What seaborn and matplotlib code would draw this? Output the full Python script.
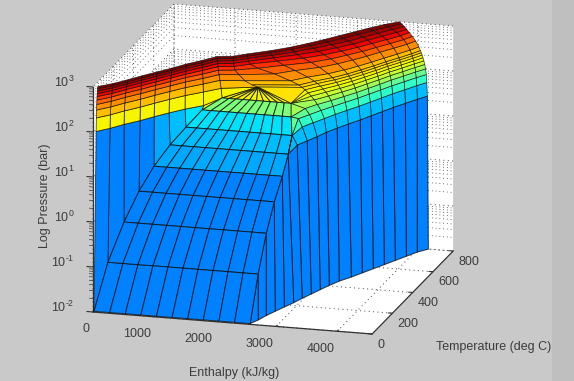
import numpy as np
import matplotlib
matplotlib.use("Agg")
import matplotlib.pyplot as plt
import seaborn as sns
from matplotlib.patches import Rectangle
from mpl_toolkits.mplot3d import proj3d

# ---------- values ----------
# two-phase region: one row per temperature, from saturated liquid to saturated vapour
dome_T  = [7, 45, 90, 135, 180, 225, 270, 315, 360, 374]
dome_hf = [5, 170, 359, 530, 701, 889, 1075, 1264, 1516, 2084]
dome_hg = [2562, 2628, 2687, 2743, 2800, 2823, 2813, 2723, 2648, 2084]
dome_logp = [-2, -0.98, -0.17, 0.43, 0.90, 1.29, 1.60, 1.90, 2.09, 2.36]
quality = [0, .1, .2, .3, .4, .5, .6, .7, .8, .9, 1]
dome_levels = [.25, .25, .25, .25, .29, .31, .345, .50, .65]

# compressed liquid wall: enthalpy per temperature column, at each pressure row
liq_T = [7, 45, 90, 135, 180, 225, 270, 315, 360, 374]
liq_P = [100, 200, 300, 400, 500, 600, 700, 800, 900, 1000]
liq_H = [
    [40, 43, 46, 49, 52, 55, 58, 61, 64, 66],
    [204, 210, 216, 222, 228, 234, 240, 245, 250, 253],
    [359, 365, 372, 378, 385, 392, 400, 408, 416, 424],
    [546, 550, 554, 558, 562, 566, 570, 573, 576, 579],
    [702, 708, 714, 720, 726, 732, 738, 742, 746, 750],
    [872, 878, 884, 890, 896, 902, 908, 913, 917, 921],
    [1059, 1061, 1063, 1065, 1067, 1069, 1071, 1072, 1074, 1075],
    [1290, 1285, 1280, 1276, 1272, 1268, 1266, 1265, 1264, 1264],
    [1516, 1500, 1480, 1465, 1455, 1448, 1443, 1439, 1436, 1434],
    [2084, 2084, 1870, 1770, 1706, 1690, 1682, 1678, 1676, 1674],
]
liq_wall_levels = [.25, .25, .25, .25, .29, .31, .345, .65, .65]
liq_band_levels = [.65, .71, .76, .805, .856, .905, .94, .97, 1.0]

# superheated vapour wall from 0.01 bar up to the first colour band
wall_T = [7, 45, 90, 135, 180, 225, 270, 315, 360, 405, 450, 495, 540, 585, 630, 675, 720, 765, 800]
wall_H_low = [2562, 2630, 2687, 2759, 2834, 2913, 2977, 3051, 3123, 3197, 3285, 3408,
              3513, 3618, 3725, 3830, 3936, 4041, 4164]
wall_H_high = [2562, 2628, 2687, 2743, 2800, 2823, 2895, 2985, 3074, 3148, 3252, 3359,
               3480, 3585, 3692, 3797, 3920, 4041, 4148]
wall_logp_high = [-2, -0.98, -0.17, 0.43, 0.90, 1.29, 1.398, 1.398, 1.398, 1.398, 1.398, 1.398,
                  1.398, 1.398, 1.398, 1.398, 1.398, 1.398, 1.398]

# vapour surface just above the dome
near_T = [225, 270, 315, 360]
near_H = [
    [2823, 2823, 2823, 2823, 2823],
    [2895, 2813, 2813, 2813, 2813],
    [2985, 2903, 2840, 2723, 2723],
    [3074, 3008, 2950, 2880, 2648],
]
near_logp = [
    [1.29, 1.29, 1.29, 1.29, 1.29],
    [1.398, 1.60, 1.60, 1.60, 1.60],
    [1.398, 1.699, 1.875, 1.90, 1.90],
    [1.398, 1.699, 1.875, 2.0, 2.09],
]

# vapour / supercritical surface
vap_P = [25, 50, 75, 100, 125, 150, 175, 200, 225, 250, 300, 400, 500, 600, 700, 800, 900, 1000]
vap_T = [405, 450, 495, 540, 585, 630, 675, 720, 765, 800]
edge_T = [360, 360, 360, 360, 360, 360, 360, 360, 374, 374, 374, 374, 374, 374, 374, 374, 374, 374]
edge_H = [3074, 3008, 2950, 2880, 2648, 2648, 2648, 2648, 2084, 1980, 1870, 1770, 1706, 1690, 1682, 1678, 1676, 1674]
edge_logp = [1.398, 1.699, 1.875, 2.0, 2.09, 2.09, 2.09, 2.09, 2.36, 2.398, 2.477, 2.602, 2.699, 2.778, 2.845, 2.903, 2.954, 3.0]
vap_H = [
    [3148, 3115, 3060, 3000, 2950, 2900, 2850, 2800, 2750, 2700, 2560, 2300, 2030, 1900, 1870, 1860, 1855, 1852],
    [3252, 3220, 3185, 3150, 3110, 3065, 3020, 2975, 2928, 2880, 2770, 2560, 2380, 2270, 2210, 2180, 2160, 2154],
    [3359, 3335, 3310, 3285, 3255, 3225, 3195, 3165, 3133, 3100, 3030, 2890, 2750, 2620, 2530, 2470, 2430, 2408],
    [3480, 3460, 3440, 3420, 3395, 3370, 3345, 3320, 3295, 3270, 3215, 3110, 3000, 2890, 2800, 2720, 2660, 2611],
    [3585, 3570, 3550, 3535, 3515, 3495, 3475, 3455, 3435, 3415, 3370, 3280, 3190, 3100, 3020, 2940, 2865, 2798],
    [3692, 3678, 3664, 3650, 3634, 3618, 3602, 3585, 3568, 3550, 3515, 3440, 3365, 3290, 3215, 3140, 3055, 2970],
    [3797, 3785, 3773, 3760, 3747, 3733, 3719, 3705, 3690, 3675, 3645, 3580, 3515, 3450, 3380, 3305, 3225, 3141],
    [3920, 3910, 3899, 3888, 3876, 3864, 3852, 3840, 3827, 3814, 3787, 3730, 3670, 3610, 3545, 3475, 3395, 3313],
    [4041, 4032, 4022, 4012, 4002, 3991, 3980, 3969, 3958, 3946, 3922, 3870, 3817, 3762, 3705, 3640, 3575, 3500],
    [4148, 4139, 4131, 4118, 4105, 4090, 4075, 4062, 4048, 4033, 4008, 3956, 3902, 3852, 3811, 3770, 3730, 3689],
]
vap_levels = [.31, .41, .47, .545, .59, .63, .65, .67, .69, .71, .76, .805, .856, .905, .94, .97, 1.0]

h_ticks = [0, 1000, 2000, 3000, 4000]
t_ticks = [0, 200, 400, 600, 800]
p_exps = [-2, -1, 0, 1, 2, 3]
minor_mult = [2, 3, 4, 5, 6, 7, 8, 9]
xlabel_txt = "Enthalpy (kJ/kg)"
ylabel_txt = "Temperature (deg C)"
zlabel_txt = "Log Pressure (bar)"

# ---------- style ----------
sns.set_theme(style="white")
plt.rcParams["font.family"] = ["Liberation Sans", "DejaVu Sans"]
plt.rcParams["mathtext.fontset"] = "custom"
plt.rcParams["mathtext.rm"] = "Liberation Sans"
plt.rcParams["mathtext.default"] = "regular"
jet = matplotlib.colormaps["jet"]
BG = "#c9c9c9"
INK = "#3c3c3c"
W, H = 574, 381
H_MAX, T_MAX = 4570, 800

fig = plt.figure(figsize=(W / 100, H / 100), dpi=100, facecolor=BG)
fig.patches.append(Rectangle((552 / W, 0), 22 / W, 1, transform=fig.transFigure,
                             facecolor="#bfbfbf", edgecolor="none", zorder=-5))
S = 574
ax = fig.add_axes([0, (H - S) / 2 / H, 1, S / H], projection="3d", computed_zorder=False)
ax.patch.set_alpha(0)
ax.set_proj_type("ortho")
ax.view_init(elev=16.5, azim=-74.5)
ax.set_xlim(0, H_MAX)
ax.set_ylim(0, T_MAX)
ax.set_zlim(-2, 3)
aspect = (289.6, 303.0, 234.6)
ax.set_box_aspect(aspect, zoom=1)


def to_px(x, y, z):
    ax.apply_aspect()
    xp, yp, _ = proj3d.proj_transform(x, y, z, ax.get_proj())
    return ax.transData.transform((xp, yp))


# scale and place the box so that its corner and height match the reference
a0, d0 = to_px(0, 0, -2), to_px(0, 0, 3)
k = 225.0 / abs(d0[1] - a0[1])
ax.set_box_aspect(aspect, zoom=k)
a1 = to_px(0, 0, -2)
dx, dy = 93 - a1[0], (H - 312) - a1[1]
ax.set_position([dx / W, ((H - S) / 2 + dy) / H, 1, S / H])

# ---------- axes ----------
DOTS = (0, (1, 3.5))
for axis in (ax.xaxis, ax.yaxis, ax.zaxis):
    axis.set_pane_color((1, 1, 1, 1))
    axis.pane.set_edgecolor("none")
    axis.line.set_color("#333333")
    axis.line.set_linewidth(0.9)
    axis._axinfo["grid"].update(color="#444444", linewidth=0.7, linestyle=DOTS)
    axis._axinfo["tick"].update(inward_factor=0.0, outward_factor=0.18, linewidth={True: 0.8, False: 0.5})
ax.zaxis._axinfo["tick"].update(outward_factor=0.0)
ax.grid(True)
ax.set_xticks(h_ticks)
ax.set_yticks(t_ticks)
ax.set_zticks(p_exps)
ax.set_zticklabels(["$10^{%s}$" % str(e).replace("-", "\u2010") for e in p_exps])
ax.tick_params(axis="both", labelsize=9, labelcolor=INK, color="#333333")
ax.tick_params(axis="x", pad=0)
ax.tick_params(axis="y", pad=-4)
ax.tick_params(axis="z", pad=3)
ax.zaxis.set_ticks_position("lower")
plt.setp(ax.get_xticklabels(), ha="right")
plt.setp(ax.get_yticklabels(), ha="left")
plt.setp(ax.get_zticklabels(), ha="right", va="bottom")

# minor dotted grid and minor ticks of the log axis
for e in p_exps[:-1]:
    for m in minor_mult:
        zz = e + np.log10(m)
        ax.plot([0, 0], [0, T_MAX], [zz, zz], color="#444444", lw=0.6, ls=DOTS, zorder=1)
        ax.plot([0, H_MAX], [T_MAX, T_MAX], [zz, zz], color="#444444", lw=0.6, ls=DOTS, zorder=1)
        ax.plot([0, -60], [0, 0], [zz, zz], color="#333333", lw=0.5, zorder=1)
for e in p_exps:
    ax.plot([0, -100], [0, 0], [e, e], color="#333333", lw=0.8, zorder=1)


# ---------- surfaces ----------
def surf(X, Y, Z, levels, zorder, lw=0.7):
    levels = np.asarray(levels, float)
    ax.plot_surface(np.asarray(X, float), np.asarray(Y, float), np.asarray(Z, float),
                    facecolors=jet(levels), rstride=1, cstride=1, shade=False,
                    edgecolor=(0.05, 0.05, 0.05, 0.8), linewidth=lw, antialiased=True, zorder=zorder)


# liquid wall
rows = len(liq_P) + 1
lH = np.column_stack([dome_hf, np.array(liq_H)]).T
lT = np.tile(np.array(liq_T, float), (rows, 1))
row_z = np.log10(liq_P)
lZ = np.vstack([dome_logp, np.tile(row_z[:, None], (1, len(liq_T)))])
lZ[1, 8] = dome_logp[8]
lZ[1, 9] = dome_logp[9]
lZ[2, 9] = dome_logp[9]
lev = np.zeros((rows - 1, len(liq_T) - 1))
lev[0] = liq_wall_levels
for i, v in enumerate(liq_band_levels):
    lev[i + 1] = v
surf(lH, lT, lZ, lev, 3, lw=0.55)

# vapour wall
wH = np.array([wall_H_low, wall_H_high])
wT = np.tile(np.array(wall_T, float), (2, 1))
wZ = np.vstack([np.full(len(wall_T), -2.0), wall_logp_high])
surf(wH, wT, wZ, np.full((1, len(wall_T) - 1), .25), 4)

# two-phase slope
dH = np.array(dome_hf)[:, None] + np.outer(np.array(dome_hg) - np.array(dome_hf), quality)
dT = np.tile(np.array(dome_T, float)[:, None], (1, len(quality)))
dZ = np.tile(np.array(dome_logp)[:, None], (1, len(quality)))
surf(dH, dT, dZ, np.tile(np.array(dome_levels)[:, None], (1, len(quality) - 1)), 5)

# vapour just above the dome
nH = np.array(near_H).T
nT = np.tile(np.array(near_T, float), (5, 1))
nZ = np.array(near_logp).T
surf(nH, nT, nZ, np.tile(np.array(vap_levels[:4])[:, None], (1, 3)), 6, lw=0.55)

# vapour / supercritical surface
vH = np.column_stack([edge_H, np.array(vap_H).T])
vT = np.column_stack([edge_T, np.tile(np.array(vap_T, float)[:, None], (1, len(vap_P))).T])
vZ = np.column_stack([edge_logp, np.tile(np.log10(vap_P)[:, None], (1, len(vap_T)))])
surf(vH, vT, vZ, np.tile(np.array(vap_levels)[:, None], (1, len(vap_T))), 7, lw=0.5)

# ---------- axis titles ----------
fig.text(234 / W, 1 - 373 / H, xlabel_txt, ha="center", va="center", fontsize=9, color=INK)
fig.text(494 / W, 1 - 347 / H, ylabel_txt, ha="center", va="center", fontsize=9, color=INK)
fig.text(45 / W, 1 - 196 / H, zlabel_txt, ha="center", va="center", rotation=90, fontsize=9, color=INK)

fig.savefig("out.png", dpi=100, facecolor=BG)
